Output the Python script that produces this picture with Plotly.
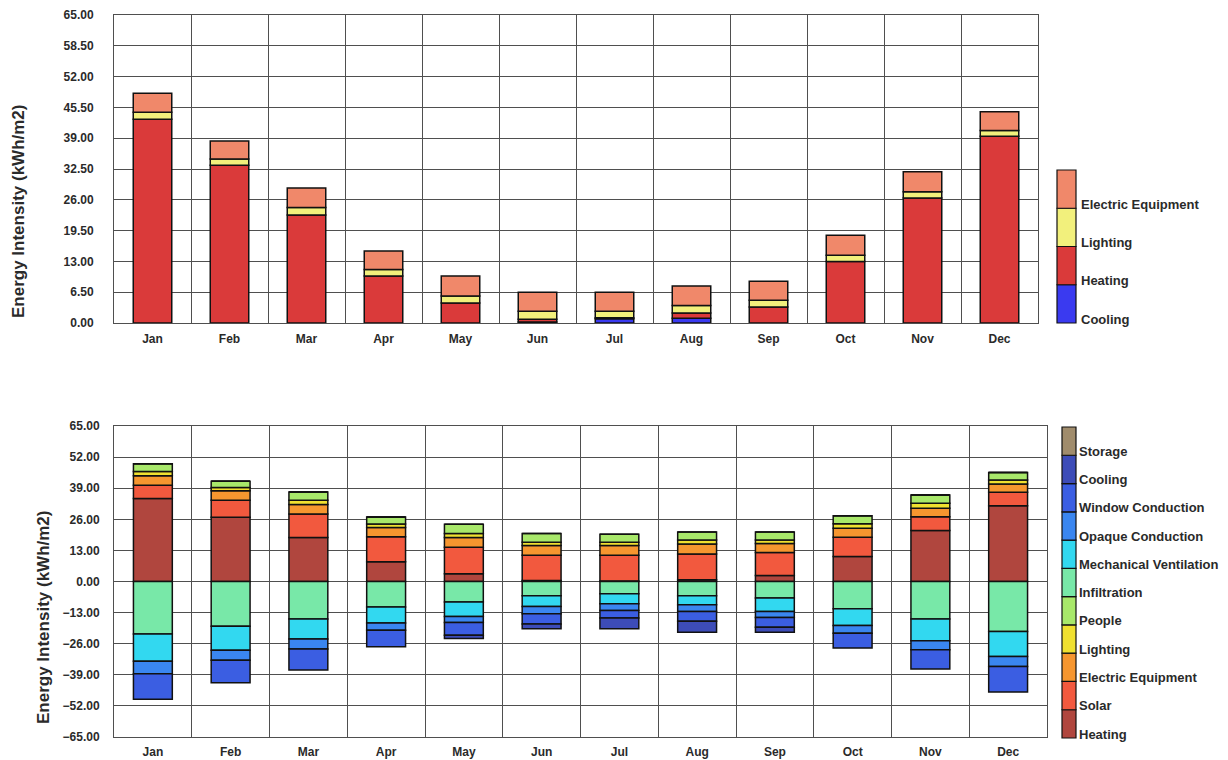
import plotly.graph_objects as go

W, H = 1228, 760

months = ["Jan", "Feb", "Mar", "Apr", "May", "Jun",
          "Jul", "Aug", "Sep", "Oct", "Nov", "Dec"]

# ---- Monthly end-use intensity (kWh/m2) ----
use_cooling = [0, 0, 0, 0, 0, 0.2, 0.9, 1.0, 0, 0, 0, 0]
use_heating = [43.0, 33.3, 22.8, 9.9, 4.2, 0.6, 0.2, 1.1, 3.4, 13.0, 26.4, 39.4]
use_lighting = [1.5, 1.3, 1.6, 1.4, 1.5, 1.7, 1.4, 1.6, 1.4, 1.3, 1.3, 1.2]
use_equipment = [4.0, 3.8, 4.1, 3.9, 4.2, 4.0, 4.0, 4.1, 4.0, 4.2, 4.2, 4.0]

# ---- Monthly heat balance (kWh/m2), gains positive / losses negative ----
bal_heating = [34.7, 26.9, 18.4, 8.3, 3.2, 0.4, 0.2, 0.7, 2.5, 10.4, 21.3, 31.7]
bal_solar = [5.5, 7.1, 9.8, 10.4, 11.1, 10.6, 10.8, 10.8, 9.6, 8.1, 5.8, 5.6]
bal_equipment = [4.0, 3.9, 4.0, 3.9, 4.1, 4.0, 4.0, 4.2, 3.8, 3.8, 3.5, 3.5]
bal_lighting = [1.8, 1.4, 1.8, 1.4, 1.7, 1.4, 1.4, 1.6, 1.4, 1.8, 2.1, 1.6]
bal_people = [3.2, 2.6, 3.4, 3.0, 3.8, 3.7, 3.3, 3.4, 3.4, 3.4, 3.5, 3.2]
bal_infiltration = [-21.9, -18.7, -15.7, -10.7, -8.6, -6.0, -5.1, -6.0, -6.9, -11.4, -15.7, -20.9]
bal_mech_vent = [-11.4, -10.0, -8.3, -6.6, -6.0, -4.4, -4.2, -3.7, -5.6, -7.0, -9.1, -10.4]
bal_opaque = [-5.3, -4.2, -4.2, -3.1, -2.5, -3.1, -2.8, -2.8, -2.5, -3.2, -3.7, -4.2]
bal_window = [-10.6, -9.4, -8.8, -6.9, -5.4, -4.3, -3.2, -4.1, -4.1, -6.2, -8.1, -10.7]
bal_cooling = [0, 0, 0, 0, -1.3, -2.0, -4.5, -4.6, -2.1, 0, 0, 0]
bal_storage = [0, 0, 0, 0, 0, 0, 0, 0, 0, 0, 0, 0]

top_ticks = [round(6.5 * i, 2) for i in range(11)]
bottom_ticks = [round(-65 + 13 * i, 2) for i in range(11)]

FONT = "Liberation Sans, Arial, sans-serif"
TXT = "#2a2a2a"
GRID = "#4f4f4f"

use_series = [
    ("Cooling", use_cooling, "#3a3af0"),
    ("Heating", use_heating, "#da3a3a"),
    ("Lighting", use_lighting, "#f2f07c"),
    ("Electric Equipment", use_equipment, "#f0886a"),
]

bal_series = [
    ("Heating", bal_heating, "#b0463e"),
    ("Solar", bal_solar, "#f2593e"),
    ("Electric Equipment", bal_equipment, "#f6962f"),
    ("Lighting", bal_lighting, "#f0e030"),
    ("People", bal_people, "#a8e86a"),
    ("Infiltration", bal_infiltration, "#78e8a8"),
    ("Mechanical Ventilation", bal_mech_vent, "#32d8f0"),
    ("Opaque Conduction", bal_opaque, "#3a86f0"),
    ("Window Conduction", bal_window, "#3b5ee2"),
    ("Cooling", bal_cooling, "#3d4cb8"),
    ("Storage", bal_storage, "#a08c6c"),
]

fig = go.Figure()

for name, vals, col in use_series:
    fig.add_trace(go.Bar(
        x=months, y=vals, name=name, marker_color=col,
        marker_line=dict(color="#111111", width=1.5),
        width=0.5, xaxis="x", yaxis="y", showlegend=False))

for name, vals, col in bal_series:
    fig.add_trace(go.Bar(
        x=months, y=vals, name=name, marker_color=col,
        marker_line=dict(color="#111111", width=1.5),
        width=0.5, xaxis="x2", yaxis="y2", showlegend=False))


def px_x(v):
    return v / W


def px_y(v):
    return 1 - v / H


tick_font = dict(family=FONT, size=12, color=TXT, weight="bold")

axis_common = dict(showline=True, linecolor=GRID, linewidth=1, mirror=True,
                   ticks="", zeroline=False, tickfont=tick_font,
                   automargin=False, showgrid=True, gridcolor=GRID, gridwidth=1)

fig.update_layout(
    width=W, height=H, margin=dict(l=0, r=0, t=0, b=0, autoexpand=False),
    paper_bgcolor="white", plot_bgcolor="white",
    barmode="relative", bargap=0.5,
    font=dict(family=FONT, color=TXT),
    xaxis=dict(domain=[px_x(114), px_x(1038)], anchor="y", type="category",
               tickson="boundaries", ticklabelstandoff=5, **axis_common),
    yaxis=dict(domain=[px_y(323), px_y(15)], anchor="x", range=[0, 65],
               tickvals=top_ticks, tickformat=".2f", ticklabelstandoff=17,
               **axis_common),
    xaxis2=dict(domain=[px_x(114), px_x(1047)], anchor="y2", type="category",
                tickson="boundaries", ticklabelstandoff=4, **axis_common),
    yaxis2=dict(domain=[px_y(737), px_y(426)], anchor="x2", range=[-65, 65],
                tickvals=bottom_ticks, tickformat=".2f", ticklabelstandoff=11,
                **axis_common),
)

annotations = []
shapes = []

# axis titles
for xc, yc in [(19, 212), (43, 618)]:
    annotations.append(dict(
        xref="paper", yref="paper", x=px_x(xc), y=px_y(yc),
        text="Energy Intensity (kWh/m2)", textangle=-90, showarrow=False,
        xanchor="center", yanchor="middle",
        font=dict(family=FONT, size=17, color=TXT, weight="bold")))


def key_column(series, x0, x1, y_top, y_bot, label_x):
    n = len(series)
    step = (y_bot - y_top) / n
    for i, (name, _, col) in enumerate(series):
        # first series sits at the bottom of the key
        seg_bot = y_bot - i * step
        seg_top = seg_bot - step
        shapes.append(dict(
            type="rect", xref="paper", yref="paper",
            x0=px_x(x0), x1=px_x(x1), y0=px_y(seg_bot), y1=px_y(seg_top),
            fillcolor=col, line=dict(color="#111111", width=1.2)))
        annotations.append(dict(
            xref="paper", yref="paper", x=px_x(label_x), y=px_y(seg_bot - 4),
            text=name, showarrow=False, xanchor="left", yanchor="middle",
            font=dict(family=FONT, size=13, color=TXT, weight="bold")))


key_column(use_series, 1057, 1076, 170, 323, 1079)
key_column(bal_series, 1062, 1076, 427, 738, 1077)

fig.update_layout(annotations=annotations, shapes=shapes)

fig.write_html("out.html")
